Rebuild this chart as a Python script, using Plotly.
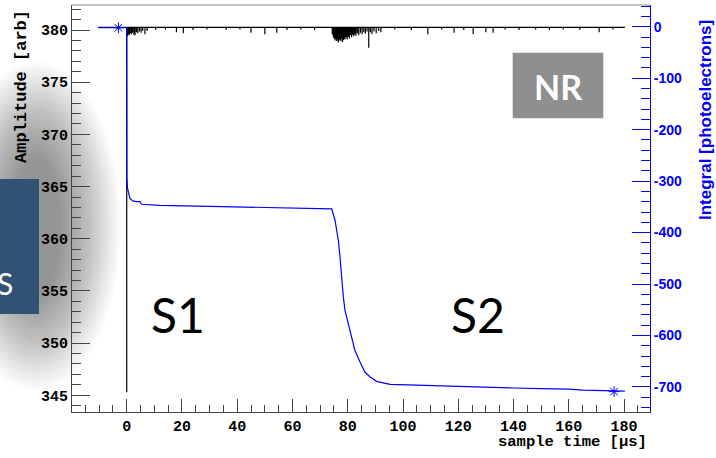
import plotly.graph_objects as go

# ---------------- data ----------------
# black waveform (Amplitude [arb], left axis)
wave_start, wave_end = -10.3, 180.3
wave_baseline = 380.25
s1_time, s1_min = 0.0, 345.3
spike_t = [0.3, 0.6, 0.9, 1.3, 1.7, 2.1, 2.6, 3.0, 3.5, 4.0, 4.6, 5.2, 5.8, 6.6, 7.4,
           10.5, 14, 18, 20.5, 24, 29, 36, 41, 45, 50, 54.3, 58, 63, 68,
           74.4, 74.8, 75.1, 75.4, 75.7, 76.0, 76.3, 76.6, 76.9, 77.2, 77.5, 77.8, 78.1,
           78.4, 78.7, 79.0, 79.4, 79.8, 80.2, 80.6, 81.0, 81.4, 81.8, 82.2, 82.6, 83.0,
           83.5, 84.0, 84.6, 85.2, 85.8, 86.4, 87.0, 87.6, 88.2, 88.8, 89.5, 90.3, 91.2, 92.0,
           97, 103, 109, 114, 118.5, 122, 125.4, 130, 132.6, 137, 142, 148, 153, 158, 164, 171, 176]
spike_v = [379.4, 379.6, 379.5, 379.7, 379.6, 379.75, 379.55, 379.5, 379.8, 379.7, 379.85, 379.75, 379.9, 379.6, 379.9,
           380.0, 380.05, 379.8, 379.7, 380.0, 380.05, 380.0, 380.05, 379.75, 379.6, 379.75, 380.0, 380.05, 380.0,
           379.6, 379.3, 379.2, 379.0, 379.15, 378.95, 379.1, 378.8, 379.0, 379.1, 378.95, 379.2, 378.85,
           379.05, 379.2, 379.1, 379.3, 379.1, 379.35, 379.2, 379.5, 379.3, 379.55, 379.4, 379.6, 379.45,
           379.7, 379.5, 379.75, 379.6, 379.8, 379.65, 379.85, 378.3, 379.8, 379.6, 379.85, 379.7, 379.9, 379.8,
           380.05, 380.0, 379.6, 380.05, 379.75, 380.0, 379.6, 379.8, 379.75, 380.05, 380.0, 380.05, 380.0, 380.05, 380.0, 379.8, 380.05]

# blue integral (photoelectrons, right axis)
integral_t = [-10.3, -3, 0, 0.05, 0.3, 1.2, 2.4, 3.5, 4.8, 5.4, 8, 12, 30, 50, 74.2, 75.4, 76.6,
              77.2, 77.8, 78.4, 79.0, 80.2, 81.4, 82.6, 84.4, 86.2, 88.0, 90.4, 95.3, 108.5, 120.6,
              130, 140, 150, 160, 165, 170, 176.4, 180.3]
integral_v = [-2, -2, -2, -292, -314, -334, -339, -340, -340, -345, -346, -347, -349, -351, -354, -376, -415,
              -447, -492, -525, -551, -577, -609, -629, -651, -671, -680, -689, -695, -697, -700,
              -701, -702, -703, -704, -706, -707, -708, -708]
marker_t = [-3, 176.4]
marker_v = [-2, -709]

# axes
x_range = [-19.8, 189.4]
y_left_range = [343.4, 382.4]
y_right_range = [-748.6, 42.2]
x_ticks = [0, 20, 40, 60, 80, 100, 120, 140, 160, 180]
y_left_ticks = [345, 350, 355, 360, 365, 370, 375, 380]
y_right_ticks = [0, -100, -200, -300, -400, -500, -600, -700]
y_right_labels = ["0", "-100", "-200", "-300", "-400", "-500", "-600", "-700"]

# ---------------- build waveform path ----------------
wx = [wave_start, s1_time, s1_time, s1_time]
wy = [wave_baseline, wave_baseline, s1_min, wave_baseline]
for t, v in zip(spike_t, spike_v):
    wx += [t, t, t]
    wy += [wave_baseline, v, wave_baseline]
wx.append(wave_end)
wy.append(wave_baseline)

fig = go.Figure()
fig.add_trace(go.Scatter(x=wx, y=wy, mode="lines", line=dict(color="black", width=1.2),
                         showlegend=False, hoverinfo="skip"))
fig.add_trace(go.Scatter(x=integral_t, y=integral_v, mode="lines", yaxis="y2",
                         line=dict(color="#0000ff", width=1.2), showlegend=False))
fig.add_trace(go.Scatter(x=marker_t, y=marker_v, mode="markers", yaxis="y2",
                         marker=dict(symbol="asterisk-open", size=9, color="#0000ff",
                                     line=dict(color="#0000ff", width=1)), showlegend=False))

W, H = 716, 458
L, R, T, B = 72, 66, 5, 46
PW, PH = W - L - R, H - T - B


def px(x):
    return (x - L) / PW


def py(y):
    return (H - B - y) / PH


mono = "Liberation Mono"
shapes = []
# soft shadow behind the left box
n = 30
for i in range(n):
    f = i / (n - 1)
    rx = 85 - 60 * f
    ry = 165 - 95 * f
    cx, cy = 36, 226
    shapes.append(dict(type="circle", xref="paper", yref="paper", layer="below",
                       x0=px(cx - rx), x1=px(cx + rx), y0=py(cy + ry), y1=py(cy - ry),
                       fillcolor="rgba(0,0,0,0.014)", line=dict(width=0)))
shapes.append(dict(type="rect", xref="paper", yref="paper", layer="below",
                   x0=px(-5), x1=px(39), y0=py(314), y1=py(179),
                   fillcolor="#2f5275", line=dict(width=0)))
# NR box
shapes.append(dict(type="rect", xref="paper", yref="paper", layer="above",
                   x0=px(512.7), x1=px(603.3), y0=py(118.3), y1=py(52.7),
                   fillcolor="#8f8f8f", line=dict(width=0)))
# top frame line
shapes.append(dict(type="line", xref="paper", yref="paper", x0=0, x1=1, y0=1, y1=1,
                   line=dict(color="#8a8a8a", width=1)))

annotations = [
    dict(text="S", x=px(15), y=py(283), xref="paper", yref="paper", xanchor="right", yanchor="middle",
         showarrow=False, font=dict(family="Lato", size=30, color="white")),
    dict(text="NR", x=px(558), y=py(86), xref="paper", yref="paper", xanchor="center", yanchor="middle",
         showarrow=False, font=dict(family="Lato", size=34, color="white", weight="bold")),
    dict(text="S1", x=px(178), y=py(314), xref="paper", yref="paper", xanchor="center", yanchor="middle",
         showarrow=False, font=dict(family="Lato", size=48, color="black")),
    dict(text="S2", x=px(478), y=py(314), xref="paper", yref="paper", xanchor="center", yanchor="middle",
         showarrow=False, font=dict(family="Lato", size=48, color="black")),
    dict(text="Amplitude [arb]", x=px(21), y=py(87), xref="paper", yref="paper", textangle=-90,
         xanchor="center", yanchor="middle", showarrow=False,
         font=dict(family=mono, size=17, color="black", weight="bold")),
    dict(text="Integral [photoelectrons]", x=px(706), y=py(120), xref="paper", yref="paper", textangle=-90,
         xanchor="center", yanchor="middle", showarrow=False,
         font=dict(family="Liberation Sans", size=17, color="#0000ff", weight="bold")),
    dict(text="sample time [\u03bcs]", x=px(649), y=py(442), xref="paper", yref="paper",
         xanchor="right", yanchor="middle", showarrow=False,
         font=dict(family=mono, size=15.5, color="black", weight="bold")),
]

fig.update_layout(
    width=W, height=H, margin=dict(l=L, r=R, t=T, b=B, autoexpand=False),
    paper_bgcolor="white", plot_bgcolor="rgba(0,0,0,0)",
    shapes=shapes, annotations=annotations,
    xaxis=dict(range=x_range, tickmode="array", tickvals=x_ticks, ticks="inside", ticklen=13,
               tickcolor="#444", linecolor="#444", showline=True, showgrid=False, zeroline=False,
               tickfont=dict(family=mono, size=15, color="black", weight="bold"),
               minor=dict(dtick=5, tick0=0, ticks="inside", ticklen=7, tickcolor="#444", showgrid=False)),
    yaxis=dict(range=y_left_range, tickmode="array", tickvals=y_left_ticks, ticks="inside", ticklen=18,
               tickcolor="#444", linecolor="#444", showline=True, showgrid=False, zeroline=False,
               tickfont=dict(family=mono, size=15, color="black", weight="bold"),
               minor=dict(dtick=1, tick0=345, ticks="inside", ticklen=9, tickcolor="#444", showgrid=False)),
    yaxis2=dict(range=y_right_range, overlaying="y", side="right", tickmode="array",
                tickvals=y_right_ticks, ticktext=y_right_labels, ticks="inside", ticklen=18,
                tickcolor="#0000ff", linecolor="#0000ff", showline=True, showgrid=False, zeroline=False,
                tickfont=dict(family="Liberation Sans", size=14, color="#0000ff", weight="bold"),
                minor=dict(dtick=20, tick0=0, ticks="inside", ticklen=9, tickcolor="#0000ff", showgrid=False)),
)

fig.write_html("out.html", config={"displayModeBar": False},
               post_script="document.body.style.margin='0';")
